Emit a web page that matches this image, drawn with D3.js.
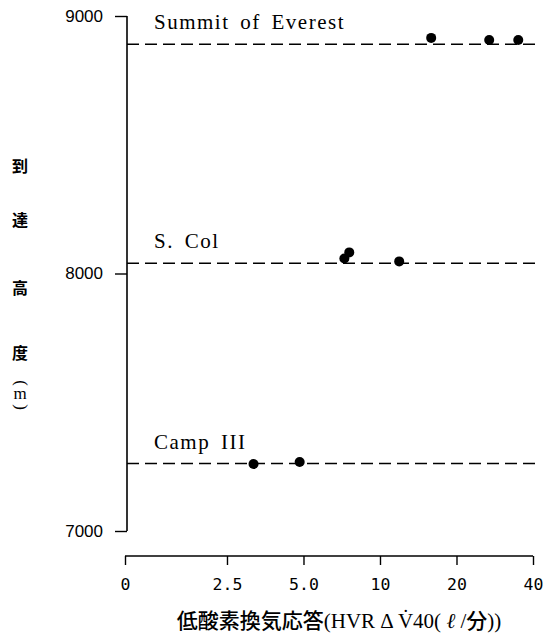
<!DOCTYPE html>
<html>
<head>
<meta charset="utf-8">
<script src="https://cdn.jsdelivr.net/npm/d3@7"></script>
<style>
  body { margin: 0; background: #fff; }
  svg { display: block; }
</style>
</head>
<body>
<div id="chart"></div>
<script>
// camps (reference lines), heights in m
const campNames = ["Summit of Everest", "S. Col", "Camp III"];
const campHeights = [8890, 8040, 7262];

// climbers: HVR value and altitude reached
const hvrValues = [15.9, 26.9, 35.0, 7.24, 7.57, 11.9, 3.18, 4.83];
const altValues = [8915, 8907, 8907, 8058, 8082, 8047, 7260, 7268];

const xTickValues = [0, 2.5, 5, 10, 20, 40];
const xTickLabels = ["0", "2.5", "5.0", "10", "20", "40"];
const yTickValues = [7000, 8000, 9000];

const WIDTH = 547, HEIGHT = 636;
const PLOT = { left: 127, top: 16, bottom: 531, xAxisY: 556, xLeft: 125, xRight: 533 };

const svg = d3.select("#chart").append("svg")
  .attr("width", WIDTH).attr("height", HEIGHT);

// x is a log scale from 2.5 up, with 0 put on its own at the left end
const toLog = v => v === 0 ? -1.333 : Math.log2(v / 2.5);
const xScale = d3.scaleLinear().domain([-1.333, 4]).range([PLOT.xLeft, PLOT.xRight]);
const x = v => xScale(toLog(v));
const y = d3.scaleLinear().domain([7000, 9000]).range([PLOT.bottom, PLOT.top]);

// y axis
const yAxis = svg.append("g")
  .attr("transform", `translate(${PLOT.left},0)`)
  .call(d3.axisLeft(y).tickValues(yTickValues).tickSize(12).tickPadding(12).tickFormat(d3.format("d")));
yAxis.select(".domain").attr("d", `M0,${PLOT.top}V${PLOT.bottom}`).attr("stroke-width", 1.6);
yAxis.selectAll(".tick line").attr("stroke-width", 1.4);
yAxis.selectAll(".tick text")
  .attr("font-family", "Liberation Sans, sans-serif").attr("font-size", 17).attr("fill", "#000");

// x axis
const xAxis = svg.append("g")
  .attr("transform", `translate(0,${PLOT.xAxisY})`)
  .call(d3.axisBottom(xScale).tickValues(xTickValues.map(toLog)).tickSize(9).tickPadding(13)
    .tickFormat((d, i) => xTickLabels[i]));
xAxis.select(".domain").attr("d", `M${PLOT.xLeft},0H${PLOT.xRight}`).attr("stroke-width", 1.6);
xAxis.selectAll(".tick line").attr("stroke-width", 1.4);
xAxis.selectAll(".tick text")
  .attr("font-family", "DejaVu Sans Mono, monospace").attr("font-size", 16.5).attr("fill", "#000");

// dashed camp lines
svg.selectAll("line.camp")
  .data(campHeights)
  .join("line")
  .attr("class", "camp")
  .attr("x1", PLOT.left).attr("x2", 536)
  .attr("y1", d => y(d)).attr("y2", d => y(d))
  .attr("stroke", "#000").attr("stroke-width", 1.5)
  .attr("stroke-dasharray", "12,6");

svg.selectAll("text.camp")
  .data(campNames)
  .join("text")
  .attr("class", "camp")
  .attr("x", 154)
  .attr("y", (d, i) => y(campHeights[i]) - 15)
  .attr("font-family", "Liberation Serif, serif").attr("font-size", 21)
  .attr("letter-spacing", 1.5).attr("word-spacing", 4)
  .text(d => d);

// data points
svg.selectAll("circle")
  .data(hvrValues)
  .join("circle")
  .attr("cx", d => x(d))
  .attr("cy", (d, i) => y(altValues[i]))
  .attr("r", 5)
  .attr("fill", "#000");

// y title, vertical
const yTitle = ["到", "達", "高", "度"];
const yTitlePos = [168, 222, 290, 355];
svg.selectAll("text.ytitle")
  .data(yTitle)
  .join("text")
  .attr("class", "ytitle")
  .attr("x", 20).attr("y", (d, i) => yTitlePos[i])
  .attr("text-anchor", "middle").attr("dominant-baseline", "middle")
  .attr("font-family", "Noto Sans CJK JP").attr("font-size", 16).attr("font-weight", "bold")
  .text(d => d);
// (m) written vertically: parens turned, m upright
svg.append("text")
  .attr("transform", "translate(20,383) rotate(90)")
  .attr("text-anchor", "middle").attr("dominant-baseline", "middle")
  .attr("font-family", "Liberation Serif, serif").attr("font-size", 17)
  .text("(");
svg.append("text")
  .attr("x", 20).attr("y", 395)
  .attr("text-anchor", "middle").attr("dominant-baseline", "middle")
  .attr("font-family", "Liberation Serif, serif").attr("font-size", 17)
  .text("m");
svg.append("text")
  .attr("transform", "translate(20,407) rotate(90)")
  .attr("text-anchor", "middle").attr("dominant-baseline", "middle")
  .attr("font-family", "Liberation Serif, serif").attr("font-size", 17)
  .text(")");

// x title
const xTitle = svg.append("text")
  .attr("x", 339).attr("y", 628)
  .attr("text-anchor", "middle")
  .attr("font-family", "Noto Sans CJK JP").attr("font-size", 21).attr("font-weight", 500);
xTitle.append("tspan").text("低酸素換気応答");
xTitle.append("tspan").attr("font-family", "Liberation Serif, serif").text("(HVR \u0394 V\u030740(");
xTitle.append("tspan").attr("font-family", "Liberation Serif, serif").attr("font-style", "italic").text(" \u2113");
xTitle.append("tspan").attr("font-family", "Liberation Serif, serif").text(" /");
xTitle.append("tspan").text("分");
xTitle.append("tspan").attr("font-family", "Liberation Serif, serif").text("))");
</script>
</body>
</html>
